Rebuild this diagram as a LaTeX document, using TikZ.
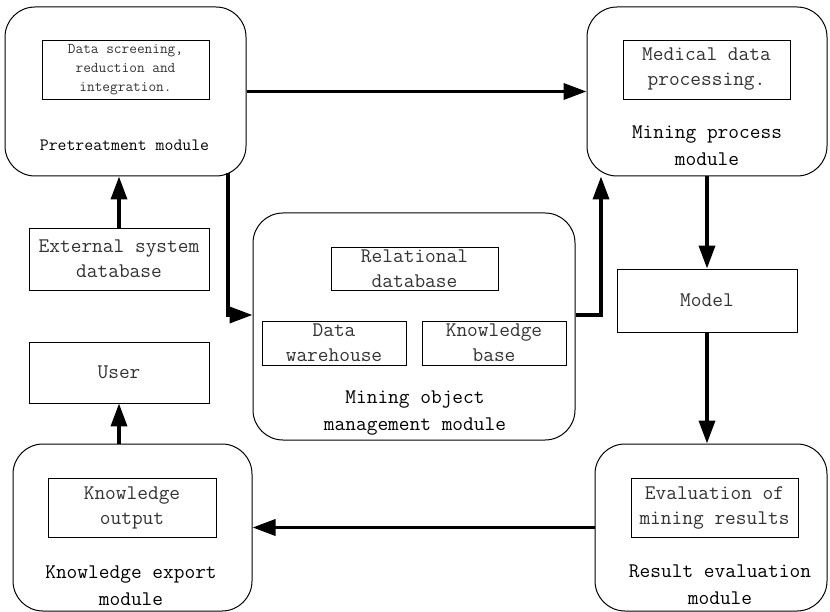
\documentclass[tikz,border=0pt]{standalone}
\usetikzlibrary{arrows.meta}
\begin{document}
\begin{tikzpicture}[x=1pt,y=-1pt,
  module/.style={draw, line width=1pt, rounded corners=30pt, inner sep=0pt},
  inbox/.style={draw, line width=0.9pt, inner sep=0pt, align=center, text=black!80,
    font=\ttfamily\fontsize{20.8}{25}\selectfont},
  smallbox/.style={inbox, font=\ttfamily\fontsize{14.9}{19}\selectfont},
  lbl/.style={align=center, inner sep=0pt, font=\ttfamily\fontsize{20.8}{27}\selectfont},
  arr/.style={line width=3.6pt, -{Triangle[length=23pt,width=16pt]}}]
\useasboundingbox (0,0) rectangle (830,612);
% modules
\node[module, minimum width=241pt, minimum height=169pt] (pre) at (125.5,91.5) {};
\node[module, minimum width=240pt, minimum height=169pt] (mp) at (707,91.5) {};
\node[module, minimum width=322pt, minimum height=227pt] (mob) at (414,326.5) {};
\node[module, minimum width=239pt, minimum height=167pt] (ko) at (132.5,527.5) {};
\node[module, minimum width=232pt, minimum height=167pt] (res) at (711,527.5) {};
% inner boxes
\node[smallbox, minimum width=167pt, minimum height=59pt] (scr) at (125.5,69.5) {Data screening,\\reduction and\\integration.};
\node[inbox, minimum width=167pt, minimum height=59pt] (med) at (706.5,69.5) {Medical data\\processing.};
\node[inbox, minimum width=167pt, minimum height=43pt] (rel) at (414.5,268.5) {Relational\\database};
\node[inbox, minimum width=144pt, minimum height=44pt] (dw) at (334,343) {Data\\warehouse};
\node[inbox, minimum width=144pt, minimum height=44pt] (kb) at (494,343) {Knowledge\\base};
\node[inbox, minimum width=168pt, minimum height=59pt] (kout) at (132,507.5) {Knowledge\\output};
\node[inbox, minimum width=167pt, minimum height=59pt] (eval) at (714.5,507.5) {Evaluation of\\mining results};
% standalone boxes
\node[inbox, minimum width=180pt, minimum height=62pt] (ext) at (119,259) {External system\\database};
\node[inbox, minimum width=180pt, minimum height=61pt] (user) at (119,372.5) {User};
\node[inbox, minimum width=180pt, minimum height=63pt] (model) at (707,300.5) {Model};
% labels
\node[lbl, font=\ttfamily\fontsize{17.3}{22}\selectfont] (prel) at (124.5,145) {Pretreatment module};
\node[lbl] (mpl) at (707,146) {Mining process\\module};
\node[lbl] (mobl) at (415,413) {Mining object\\management module};
\node[lbl] (kol) at (131,586) {Knowledge export\\module};
\node[lbl] (resl) at (720,585) {Result evaluation\\module};
% connectors
\coordinate (j1) at (228,315);
\coordinate (j2) at (601,315);
\coordinate (p1) at ([yshift=3pt]pre.south);
\draw[arr] (pre.east) -- (pre.east -| mp.west);
\draw[arr] (p1 -| j1) |- (mob.west |- j1);
\draw[arr] (mob.east |- j2) -| (mp.south -| j2);
\draw[arr] (mp.south) -- (model.north);
\draw[arr] (model.south) -- (model.south |- res.north);
\draw[arr] (res.west) -- (ko.east);
\draw[arr] (ko.north -| user.south) -- (user.south);
\draw[arr] (ext.north) -- (ext.north |- pre.south);
\end{tikzpicture}
\end{document}
